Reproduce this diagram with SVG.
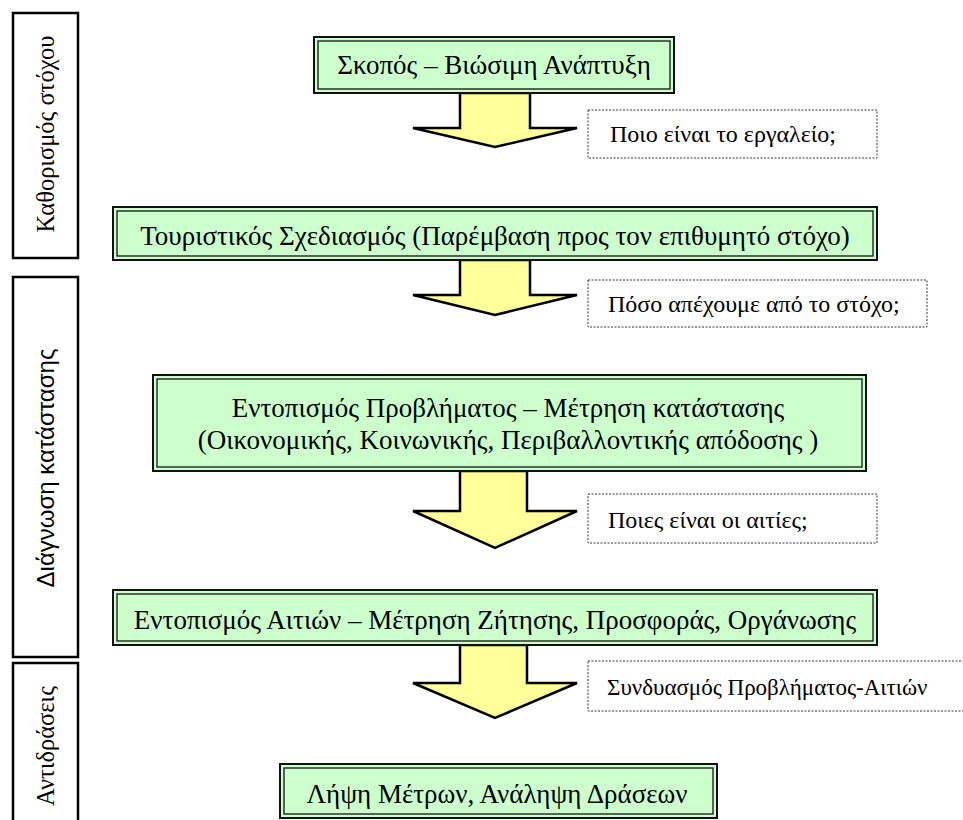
<svg xmlns="http://www.w3.org/2000/svg" width="963" height="820" viewBox="0 0 963 820">
<style>
.outer{fill:#CCFFCC;stroke:#111;stroke-width:2}
.inner{fill:none;stroke:#111;stroke-width:1.3}
.t{font-family:'Liberation Serif','Times New Roman',serif;font-size:27px;fill:#000;text-anchor:middle}
.q{font-family:'Liberation Serif','Times New Roman',serif;font-size:24px;fill:#000}
.dash{fill:#fff;stroke:#333;stroke-width:1;stroke-dasharray:2,1.5}
.side{fill:#fff;stroke:#000;stroke-width:2.5}
.st{font-family:'Liberation Serif','Times New Roman',serif;font-size:24.5px;fill:#000;text-anchor:middle}
.ss{font-family:'Liberation Sans',Arial,sans-serif;font-size:24px;fill:#000;text-anchor:middle}
.arr{fill:#FFFF99;stroke:#000;stroke-width:2.5;stroke-linejoin:miter}
</style>
<g id="side-goal">
<rect class="side" x="13" y="13" width="65" height="245"/>
<text class="st" transform="translate(54,134) rotate(-90)">Καθορισμός στόχου</text>
</g>
<g id="side-diagnosis">
<rect class="side" x="13" y="277" width="65" height="380"/>
<text class="ss" transform="translate(54,468) rotate(-90)">Διάγνωση κατάστασης</text>
</g>
<g id="side-reactions">
<rect class="side" x="13" y="663" width="65" height="170"/>
<text class="st" transform="translate(54,746) rotate(-90)">Αντιδράσεις</text>
</g>
<g id="connectors">
<path class="arr" d="M460,93 L530,93 L530,128 L577,128 L495,147 L413,128 L460,128 Z"/>
<path class="arr" d="M460,260 L530,260 L530,295 L577,295 L495,315 L413,295 L460,295 Z"/>
<path class="arr" d="M460,471 L527,471 L527,511 L577,511 L495,548 L413,511 L460,511 Z"/>
<path class="arr" d="M460,645 L527,645 L527,683 L577,683 L495,718 L413,683 L460,683 Z"/>
</g>
<g id="n1">
<rect class="outer" x="314" y="37" width="360" height="56"/>
<rect class="inner" x="318" y="41" width="352" height="48"/>
<text class="t" x="494" y="74">Σκοπός – Βιώσιμη Ανάπτυξη</text>
</g>
<g id="q1">
<rect class="dash" x="588" y="110" width="289" height="48"/>
<text class="q" x="610" y="142">Ποιο είναι το εργαλείο;</text>
</g>
<g id="n2">
<rect class="outer" x="113" y="207" width="764" height="53"/>
<rect class="inner" x="117" y="211" width="756" height="45"/>
<text class="t" x="495" y="245">Τουριστικός Σχεδιασμός (Παρέμβαση προς τον επιθυμητό στόχο)</text>
</g>
<g id="q2">
<rect class="dash" x="588" y="280" width="339" height="47"/>
<text class="q" x="608" y="312">Πόσο απέχουμε από το στόχο;</text>
</g>
<g id="n3">
<rect class="outer" x="153" y="375" width="713" height="96"/>
<rect class="inner" x="157" y="379" width="705" height="88"/>
<text class="t" x="508" y="417">Εντοπισμός Προβλήματος – Μέτρηση κατάστασης</text>
<text class="t" x="508" y="449">(Οικονομικής, Κοινωνικής, Περιβαλλοντικής απόδοσης )</text>
</g>
<g id="q3">
<rect class="dash" x="588" y="494" width="289" height="49"/>
<text class="q" x="608" y="528">Ποιες είναι οι αιτίες;</text>
</g>
<g id="n4">
<rect class="outer" x="113" y="590" width="764" height="55"/>
<rect class="inner" x="117" y="594" width="756" height="47"/>
<text class="t" x="495" y="629">Εντοπισμός Αιτιών – Μέτρηση Ζήτησης, Προσφοράς, Οργάνωσης</text>
</g>
<g id="q4">
<rect class="dash" x="588" y="661" width="380" height="50"/>
<text class="q" x="607" y="695" style="font-size:23px">Συνδυασμός Προβλήματος-Αιτιών</text>
</g>
<g id="n5">
<rect class="outer" x="280" y="764" width="437" height="54"/>
<rect class="inner" x="284" y="768" width="429" height="46"/>
<text class="t" x="497" y="803">Λήψη Μέτρων, Ανάληψη Δράσεων</text>
</g>
</svg>
